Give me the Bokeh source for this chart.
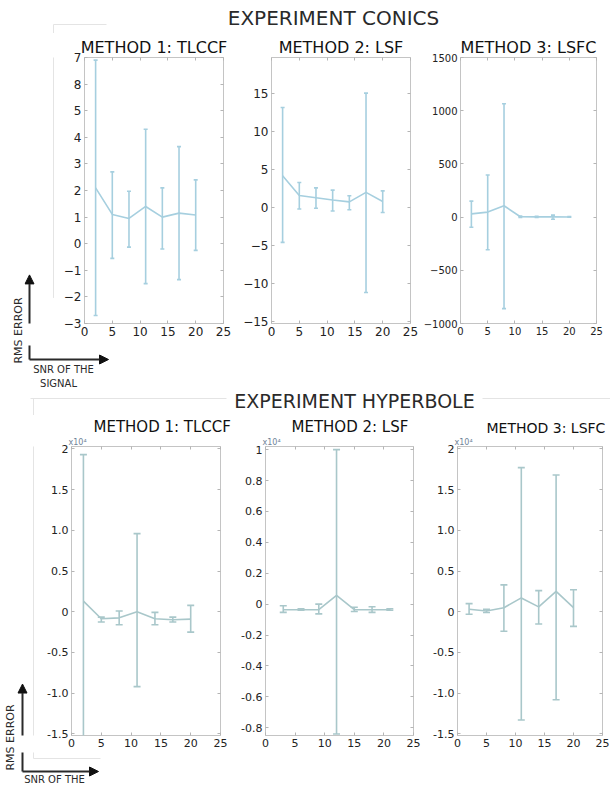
import math
from bokeh.plotting import figure
from bokeh.models import (Range1d, FixedTicker, LinearAxis, Whisker, ColumnDataSource,
                          Label, Arrow, NormalHead, TeeHead, Title)
from bokeh.layouts import column, row
from bokeh.embed import file_html
from bokeh.resources import INLINE

FONT = "DejaVu Sans"

# ---------------- data ----------------
snr = [2, 5, 8, 11, 14, 17, 20]
snr_hyp_lsf = [3, 6, 9, 12, 15, 18, 21]

conics_tlccf_mean = [2.1, 1.1, 0.95, 1.4, 1.0, 1.15, 1.08]
conics_tlccf_low = [-2.7, -0.55, -0.13, -1.5, -0.2, -1.35, -0.25]
conics_tlccf_high = [6.9, 2.7, 1.97, 4.3, 2.1, 3.65, 2.4]

conics_lsf_mean = [4.2, 1.6, 1.3, 1.0, 0.75, 2.0, 0.8]
conics_lsf_low = [-4.6, -0.2, -0.1, -0.45, -0.3, -11.2, -0.65]
conics_lsf_high = [13.2, 3.3, 2.6, 2.3, 1.55, 15.1, 2.2]

conics_lsfc_mean = [30, 47, 107, 3, 2, 2, 1]
conics_lsfc_low = [-95, -307, -860, -3, -3, -20, -2]
conics_lsfc_high = [150, 395, 1066, 9, 7, 19, 4]

# hyperbole values in units of 10^4
hyp_tlccf_mean = [0.13, -0.086, -0.075, 0.0, -0.086, -0.098, -0.09]
hyp_tlccf_low = [-1.6, -0.125, -0.16, -0.92, -0.16, -0.125, -0.25]
hyp_tlccf_high = [1.93, -0.066, 0.01, 0.96, -0.008, -0.066, 0.078]

hyp_lsf_mean = [-0.036, -0.036, -0.036, 0.057, -0.036, -0.036, -0.036]
hyp_lsf_low = [-0.053, -0.04, -0.063, -0.84, -0.048, -0.053, -0.04]
hyp_lsf_high = [-0.01, -0.03, 0.0, 1.0, -0.02, -0.017, -0.03]

hyp_lsfc_mean = [0.03, 0.01, 0.05, 0.17, 0.06, 0.25, 0.05]
hyp_lsfc_low = [-0.03, -0.01, -0.24, -1.33, -0.15, -1.08, -0.18]
hyp_lsfc_high = [0.1, 0.03, 0.33, 1.77, 0.26, 1.68, 0.27]

x_ticks = [0, 5, 10, 15, 20, 25]

TOP_COLOR = "#a6cfdf"
BOT_COLOR = "#a9c7ca"
INK = "#2a2a2a"
FAINT = "#e4e4e4"

# decoration lines, page coordinates (x0, y0, x1, y1)
ARROWS = [(29, 359, 29, 288), (29, 359, 108, 359), (22, 771, 22, 692), (22, 771, 98, 771)]
FAINT_LINES = [(53, 24, 106, 24), (53, 24, 53, 315),
               (30, 398, 226, 398), (482, 398, 610, 398),
               (33, 398, 33, 758), (33, 758, 100, 758)]


def style_axis(ax, size, hidden=False):
    ax.axis_line_color = None
    ax.major_tick_in = 3
    ax.major_tick_out = 0
    ax.minor_tick_in = 0
    ax.minor_tick_out = 0
    ax.major_tick_line_color = "#b5b5b5"
    ax.major_label_standoff = 0 if hidden else 3
    ax.major_label_text_font = FONT
    ax.major_label_text_font_size = size
    ax.major_label_text_color = "#222222"


def panel(width, height, left, right, top, bottom, yr, yticks, overrides, color,
          xs, mean, low, high, cap, label_size):
    p = figure(width=width, height=height, x_range=Range1d(0, 25), y_range=Range1d(*yr),
               output_backend="svg", toolbar_location=None, title=None,
               min_border_left=left, min_border_right=right,
               min_border_top=top, min_border_bottom=bottom,
               background_fill_color="white", border_fill_color="white",
               outline_line_color="#c4c4c4")
    p.grid.visible = False
    p.xaxis.ticker = FixedTicker(ticks=x_ticks)
    p.yaxis.ticker = FixedTicker(ticks=yticks)
    p.yaxis.major_label_overrides = overrides
    style_axis(p.xaxis[0], label_size)
    style_axis(p.yaxis[0], label_size)
    ra = LinearAxis(ticker=FixedTicker(ticks=yticks),
                    major_label_overrides={t: "" for t in yticks})
    ta = LinearAxis(ticker=FixedTicker(ticks=x_ticks),
                    major_label_overrides={t: "" for t in x_ticks})
    style_axis(ra, "1px", True)
    style_axis(ta, "1px", True)
    p.add_layout(ra, "right")
    p.add_layout(ta, "above")

    src = ColumnDataSource(dict(x=xs, y=mean, lower=low, upper=high))
    w = Whisker(base="x", upper="upper", lower="lower", source=src, dimension="height",
                line_color=color, line_width=1.6,
                upper_head=TeeHead(size=cap, line_color=color, line_width=1.6),
                lower_head=TeeHead(size=cap, line_color=color, line_width=1.6))
    p.add_layout(w)
    p.line("x", "y", source=src, line_color=color, line_width=1.6)
    return p


def add_title(p, text, size, align="center", offset=0, color="#111111", standoff=2):
    p.add_layout(Title(text=text, align=align, offset=offset, standoff=standoff,
                       text_font=FONT, text_font_size=size, text_font_style="normal",
                       text_color=color), "above")


def deco(x0, x1, y0, y1):
    """Figure whose frame maps 1:1 onto the page region x0..x1, y0..y1."""
    d = figure(width=x1 - x0, height=y1 - y0, x_range=Range1d(x0, x1), y_range=Range1d(y1, y0),
               output_backend="svg", toolbar_location=None, title=None,
               min_border=0, outline_line_color=None,
               x_axis_location=None, y_axis_location=None)
    d.grid.visible = False
    for (a, b, c, e) in FAINT_LINES:
        d.segment(x0=[a], y0=[b], x1=[c], y1=[e], line_color=FAINT, line_width=1)
    for (a, b, c, e) in ARROWS:
        d.add_layout(Arrow(x_start=a, y_start=b, x_end=c, y_end=e,
                           line_color=INK, line_width=2,
                           end=NormalHead(size=9, fill_color="#111111", line_color="#111111")))
    return d


def text(d, x, y, s, size, angle=0.0):
    d.add_layout(Label(x=x, y=y, text=s, angle=angle, text_align="center",
                       text_baseline="middle", text_font=FONT, text_font_size=size,
                       text_color=INK))


# ---------------- top section ----------------
h1 = deco(0, 610, 0, 33)
text(h1, 333, 17.5, "EXPERIMENT CONICS", "20px")

f1 = panel(180, 312, 22, 17, 24, 22, (-3, 7), list(range(-3, 8)), {6: "8"}, TOP_COLOR,
           snr, conics_tlccf_mean, conics_tlccf_low, conics_tlccf_high, 4, "12px")
f2 = panel(180, 312, 29, 10, 24, 22, (-15.3, 19.8), [-15, -10, -5, 0, 5, 10, 15], {}, TOP_COLOR,
           snr, conics_lsf_mean, conics_lsf_low, conics_lsf_high, 4, "12px")
f3 = panel(190, 312, 34, 14, 24, 22, (-1000, 1500), [-1000, -500, 0, 500, 1000, 1500], {}, TOP_COLOR,
           snr, conics_lsfc_mean, conics_lsfc_low, conics_lsfc_high, 4, "10px")
add_title(f1, "METHOD 1: TLCCF", "16px")
add_title(f2, "METHOD 2: LSF", "16px")
add_title(f3, "METHOD 3: LSFC", "16px")

l_rms = deco(0, 24, 33, 389)
text(l_rms, 18, 330, "RMS ERROR", "11px", math.pi / 2)
l_strip = deco(24, 60, 33, 345)
foot1 = deco(24, 610, 345, 389)
text(foot1, 63, 369, "SNR OF THE", "10px")
text(foot1, 58, 383, "SIGNAL", "10px")

top_block = row(l_rms, column(row(l_strip, f1, f2, f3, spacing=0), foot1, spacing=0), spacing=0)

# ---------------- bottom section ----------------
h2 = deco(0, 610, 389, 415)
text(h2, 354, 400, "EXPERIMENT HYPERBOLE", "19px")

hyp_ticks = [-1.5, -1.0, -0.5, 0, 0.5, 1.0, 1.5, 2]
hyp_over = {-1.5: "-1.5", -1.0: "-1.0", -0.5: "-0.5", 0: "0", 0.5: "0.5", 1.0: "1.0", 1.5: "1.5", 2: "2"}
lsf_ticks = [-0.8, -0.6, -0.4, -0.2, 0, 0.2, 0.4, 0.6, 0.8, 1]
lsf_over = {-0.8: "-0.8", -0.6: "-0.6", -0.4: "-0.4", -0.2: "-0.2", 0: "0",
            0.2: "0.2", 0.4: "0.4", 0.6: "0.6", 0.8: "0.8", 1: "1"}

g1 = panel(191, 337, 27, 15, 28, 17, (-1.52, 2.03), hyp_ticks, hyp_over, BOT_COLOR,
           snr, hyp_tlccf_mean, hyp_tlccf_low, hyp_tlccf_high, 7, "11px")
g2 = panel(195, 337, 30, 17, 28, 17, (-0.85, 1.02), lsf_ticks, lsf_over, BOT_COLOR,
           snr_hyp_lsf, hyp_lsf_mean, hyp_lsf_low, hyp_lsf_high, 7, "11px")
g3 = panel(180, 337, 26, 8, 28, 17, (-1.52, 2.03), hyp_ticks, hyp_over, BOT_COLOR,
           snr, hyp_lsfc_mean, hyp_lsfc_low, hyp_lsfc_high, 7, "11px")
for g, t, size, off in ((g1, "METHOD 1: TLCCF", "15px", 22),
                        (g2, "METHOD 2: LSF", "15px", 26),
                        (g3, "METHOD 3: LSFC", "14px", 29)):
    add_title(g, "x10\u2074", "8px", align="left", offset=-3, color="#6f8499", standoff=0)
    add_title(g, t, size, align="left", offset=off, standoff=0)

lb_rms = deco(0, 16, 415, 789)
text(lb_rms, 10, 737, "RMS ERROR", "11px", math.pi / 2)
lb_strip = deco(16, 44, 415, 752)
foot2 = deco(16, 610, 752, 789)
text(foot2, 54, 779, "SNR OF THE", "10px")

bottom_block = row(lb_rms, column(row(lb_strip, g1, g2, g3, spacing=0), foot2, spacing=0), spacing=0)

layout = column(h1, top_block, h2, bottom_block, spacing=0)

open("out.html", "w").write(file_html(layout, INLINE))
